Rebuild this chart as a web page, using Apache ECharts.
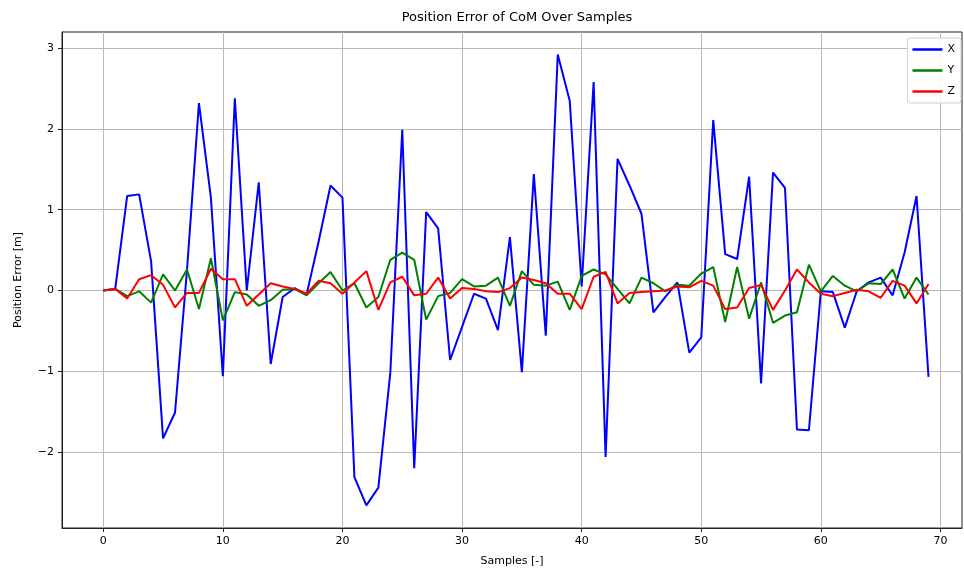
<!DOCTYPE html>
<html>
<head>
    <meta charset="utf-8">
    <title>Position Error of CoM</title>
    <style>
        * { margin: 0; padding: 0; }
        body { background: #fff; }
        #main { width: 964px; height: 577px; }
    </style>
    <script src="https://cdn.jsdelivr.net/npm/echarts@6/dist/echarts.min.js"></script>
</head>
<body>
    <div id="main"></div>
    <script type="text/javascript">
        // sample index 0..69
        var samples = [];
        for (var i = 0; i < 70; i++) samples.push(i);

        // position error per axis [m]
        var errX = [0, 0.02, 1.17, 1.19, 0.36, -1.83, -1.51, 0.25, 2.32, 1.15,
            -1.06, 2.38, 0.0, 1.34, -0.91, -0.08, 0.03, -0.05, 0.6, 1.3,
            1.15, -2.31, -2.66, -2.44, -1.02, 1.99, -2.2, 0.97, 0.77, -0.86,
            -0.45, -0.04, -0.1, -0.49, 0.66, -1.01, 1.44, -0.56, 2.92, 2.35,
            0.05, 2.58, -2.06, 1.63, 1.3, 0.95, -0.27, -0.08, 0.1, -0.77,
            -0.58, 2.11, 0.45, 0.39, 1.41, -1.15, 1.46, 1.27, -1.72, -1.73,
            -0.01, -0.02, -0.46, -0.01, 0.1, 0.16, -0.06, 0.47, 1.17, -1.07];
        var errY = [0, 0.02, -0.07, -0.01, -0.15, 0.2, 0.0, 0.26, -0.23, 0.4,
            -0.37, -0.02, -0.05, -0.19, -0.12, 0.01, 0.02, -0.06, 0.09, 0.23,
            0.0, 0.09, -0.21, -0.08, 0.38, 0.47, 0.38, -0.36, -0.07, -0.03,
            0.14, 0.05, 0.06, 0.16, -0.19, 0.24, 0.07, 0.06, 0.11, -0.24,
            0.18, 0.26, 0.2, 0.02, -0.16, 0.16, 0.09, -0.01, 0.07, 0.06,
            0.21, 0.29, -0.39, 0.29, -0.35, 0.1, -0.4, -0.31, -0.27, 0.32,
            -0.01, 0.18, 0.06, -0.01, 0.09, 0.08, 0.26, -0.1, 0.16, -0.05];
        var errZ = [0, 0.02, -0.1, 0.14, 0.19, 0.07, -0.21, -0.03, -0.03, 0.27,
            0.14, 0.14, -0.19, -0.05, 0.09, 0.05, 0.02, -0.04, 0.12, 0.09,
            -0.04, 0.1, 0.24, -0.24, 0.1, 0.17, -0.06, -0.04, 0.16, -0.1,
            0.03, 0.02, -0.01, -0.02, 0.03, 0.16, 0.13, 0.09, -0.04, -0.04,
            -0.23, 0.17, 0.23, -0.16, -0.03, -0.02, -0.01, 0.0, 0.05, 0.04,
            0.12, 0.06, -0.23, -0.21, 0.03, 0.07, -0.24, 0.0, 0.26, 0.1,
            -0.04, -0.07, -0.03, 0.01, -0.01, -0.09, 0.12, 0.06, -0.16, 0.08];

        var xTicks = [0, 10, 20, 30, 40, 50, 60, 70];
        var yTicks = [-2, -1, 0, 1, 2, 3];

        function pairs(vals) {
            return vals.map(function (v, i) { return [samples[i], v]; });
        }

        var chart = echarts.init(document.getElementById('main'));
        var font = 'DejaVu Sans';

        var option = {
            animation: false,
            backgroundColor: '#fff',
            title: {
                text: 'Position Error of CoM Over Samples',
                left: 512,
                textAlign: 'center',
                top: 6,
                textStyle: { fontFamily: font, fontSize: 13, fontWeight: 'normal', color: '#000' }
            },
            legend: {
                data: ['X', 'Y', 'Z'],
                orient: 'vertical',
                right: 3,
                top: 38,
                icon: 'rect',
                itemWidth: 30,
                itemHeight: 2.5,
                itemGap: 10,
                padding: [6, 6, 6, 5],
                backgroundColor: 'rgba(255,255,255,0.85)',
                borderColor: '#d0d0d0',
                borderWidth: 1,
                borderRadius: 3,
                textStyle: { fontFamily: font, fontSize: 11, color: '#000' }
            },
            grid: {
                left: 62,
                right: 2,
                top: 32,
                bottom: 49,
                show: true,
                borderColor: '#222',
                borderWidth: 1
            },
            xAxis: {
                type: 'value',
                min: -3.45,
                max: 71.8,
                name: 'Samples [-]',
                nameLocation: 'middle',
                nameGap: 28,
                nameTextStyle: { fontFamily: font, fontSize: 11, color: '#000' },
                axisLine: { show: true, onZero: false, lineStyle: { color: '#222' } },
                axisTick: { show: true, length: 4, customValues: xTicks, lineStyle: { color: '#222' } },
                axisLabel: { customValues: xTicks, fontFamily: font, fontSize: 11, color: '#000', margin: 8 },
                splitLine: { show: true, lineStyle: { color: '#b8b8b8', width: 1 } }
            },
            yAxis: {
                type: 'value',
                min: -2.94,
                max: 3.2,
                name: 'Position Error [m]',
                nameLocation: 'middle',
                nameGap: 38,
                nameTextStyle: { fontFamily: font, fontSize: 11, color: '#000' },
                axisLine: { show: true, onZero: false, lineStyle: { color: '#222' } },
                axisTick: { show: true, length: 4, customValues: yTicks, lineStyle: { color: '#222' } },
                axisLabel: {
                    customValues: yTicks, fontFamily: font, fontSize: 11, color: '#000', margin: 8,
                    formatter: function (v) { return v < 0 ? '\u2212' + Math.abs(v) : String(v); }
                },
                splitLine: { show: true, lineStyle: { color: '#b8b8b8', width: 1 } }
            },
            series: [
                { name: 'X', type: 'line', data: pairs(errX), symbol: 'none', lineStyle: { color: '#0000ff', width: 2 }, itemStyle: { color: '#0000ff' } },
                { name: 'Y', type: 'line', data: pairs(errY), symbol: 'none', lineStyle: { color: '#008000', width: 2 }, itemStyle: { color: '#008000' } },
                { name: 'Z', type: 'line', data: pairs(errZ), symbol: 'none', lineStyle: { color: '#ff0000', width: 2 }, itemStyle: { color: '#ff0000' } }
            ]
        };
        chart.setOption(option);
    </script>
</body>
</html>
